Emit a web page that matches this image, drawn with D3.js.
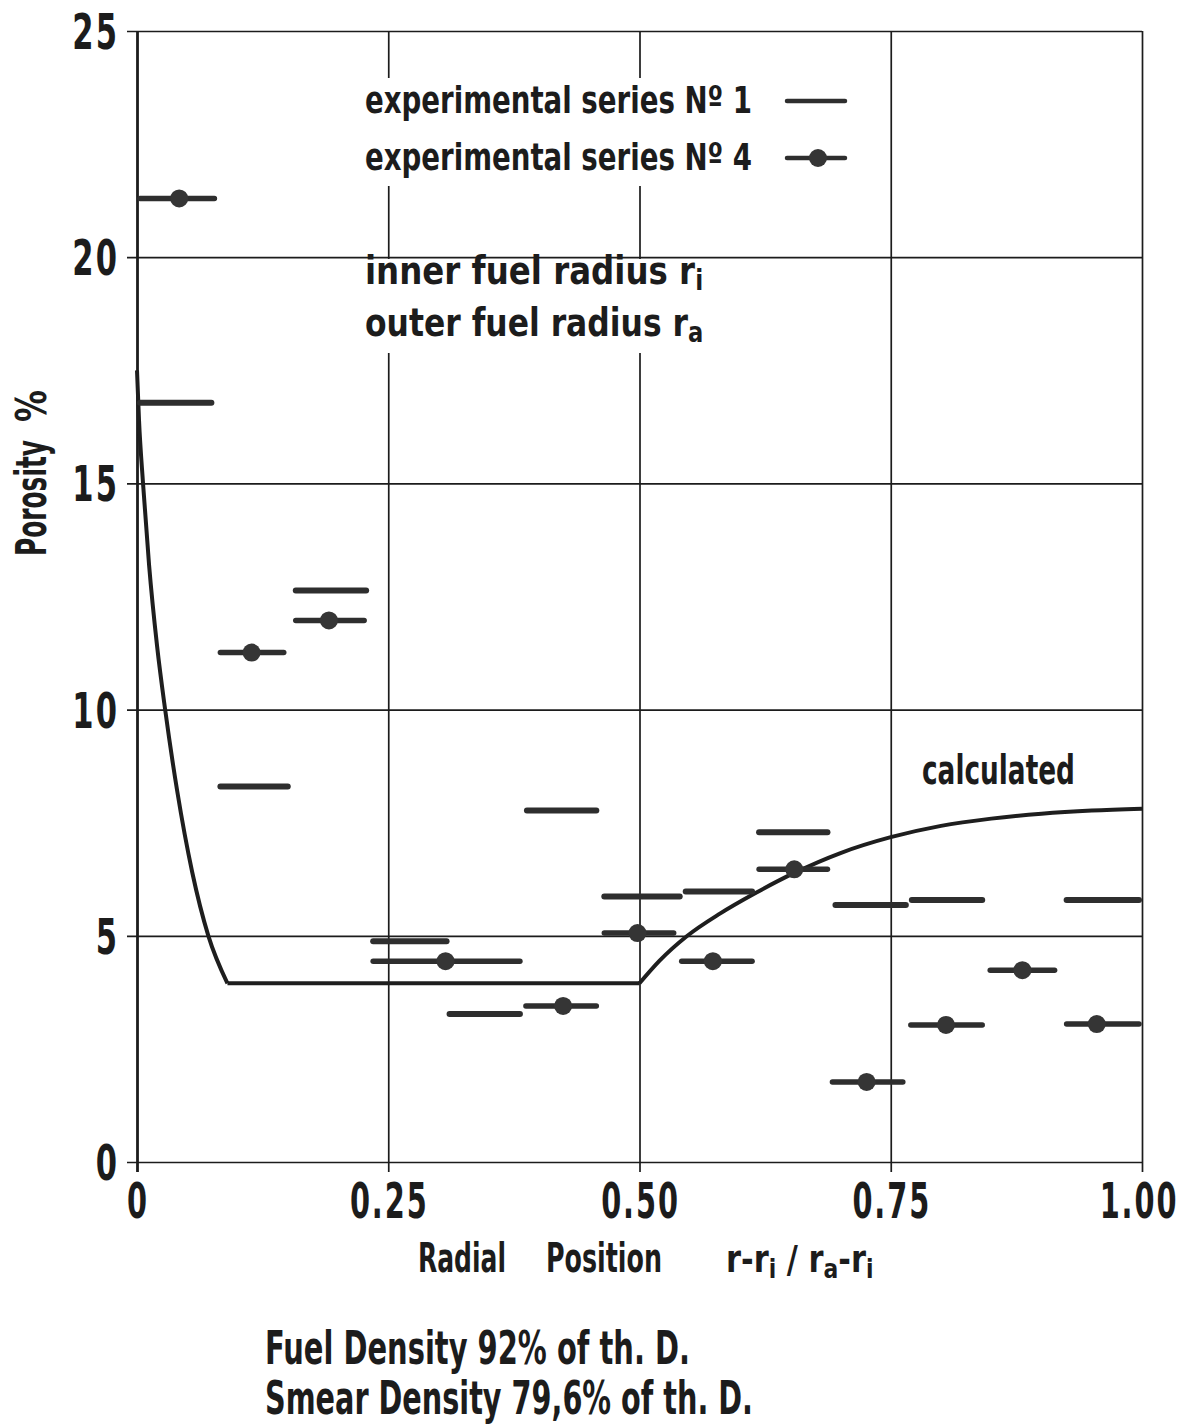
<!DOCTYPE html>
<html><head><meta charset="utf-8">
<script src="https://cdn.jsdelivr.net/npm/d3@7"></script>
<style>
html,body{margin:0;padding:0;background:#fff;}
svg{display:block;}
text{font-family:'Liberation Sans Narrow','DejaVu Sans Condensed','Liberation Sans',sans-serif;font-weight:700;fill:#1c1c1c;}
</style>
</head><body>
<svg id="c" width="1184" height="1425"></svg>
<script>
// ---- data ----
const xTicks = [0, 0.25, 0.5, 0.75, 1];
const xTickLabels = ["0", "0.25", "0.50", "0.75", "1.00"];
const yTicks = [0, 5, 10, 15, 20, 25];
const yTickLabels = ["0", "5", "10", "15", "20", "25"];

// experimental series No 1 (plain bars)
const s1Start = [0.000, 0.080, 0.155, 0.232, 0.308, 0.385, 0.462, 0.543, 0.616, 0.692, 0.768, 0.922];
const s1End   = [0.077, 0.153, 0.231, 0.311, 0.384, 0.460, 0.543, 0.615, 0.690, 0.768, 0.844, 1.000];
const s1Value = [16.78, 8.30, 12.63, 4.88, 3.27, 7.77, 5.87, 5.98, 7.29, 5.68, 5.79, 5.79];

// experimental series No 4 (bars with dot)
const s4Start  = [0.000, 0.080, 0.155, 0.232, 0.384, 0.462, 0.539, 0.616, 0.689, 0.767, 0.846, 0.922];
const s4End    = [0.080, 0.149, 0.229, 0.384, 0.460, 0.537, 0.615, 0.690, 0.765, 0.844, 0.916, 1.000];
const s4Center = [0.042, 0.114, 0.191, 0.307, 0.424, 0.498, 0.573, 0.654, 0.726, 0.805, 0.881, 0.955];
const s4Value  = [21.30, 11.26, 11.97, 4.44, 3.45, 5.06, 4.44, 6.47, 1.77, 3.03, 4.24, 3.05];

// calculated curve
const calcX = [0, 0.002, 0.006, 0.012, 0.02, 0.028, 0.04, 0.055, 0.071, 0.09, 0.5, 0.52, 0.547, 0.58, 0.615, 0.654, 0.7, 0.75, 0.8, 0.85, 0.9, 0.95, 1.0];
const calcY = [17.5, 16.4, 15.0, 13.2, 11.4, 10.0, 8.2, 6.4, 5.0, 3.95, 3.95, 4.45, 4.99, 5.49, 5.94, 6.39, 6.83, 7.18, 7.43, 7.59, 7.70, 7.77, 7.81];

// ---- drawing ----
const svg = d3.select("#c");
svg.append("rect").attr("width", 1184).attr("height", 1425).attr("fill", "#fff");

const x = d3.scaleLinear().domain([0, 1]).range([137, 1142]);
const y = d3.scaleLinear().domain([0, 25]).range([1162, 31]);

const ink = "#1c1c1c";
const grid = svg.append("g");

// horizontal grid lines (extending left as ticks)
const yAxis = d3.axisLeft(y).tickValues(yTicks).tickSize(x(1) - x(0) + 10).tickFormat("");
grid.append("g").attr("transform", `translate(${x(1)},0)`).call(yAxis)
  .call(g => g.select(".domain").remove())
  .call(g => g.selectAll(".tick line").attr("stroke", ink).attr("stroke-width", 1.7));

// vertical grid lines (extending below as ticks)
const xAxis = d3.axisBottom(x).tickValues(xTicks).tickSize(y(0) - y(25) + 10).tickFormat("");
grid.append("g").attr("transform", `translate(0,${y(25)})`).call(xAxis)
  .call(g => g.select(".domain").remove())
  .call(g => g.selectAll(".tick line").attr("stroke", ink)
    .attr("stroke-width", (d) => d === 0 ? 2.8 : 1.7));

// white backing boxes where text interrupts the grid
svg.append("rect").attr("x", 355).attr("y", 78).attr("width", 500).attr("height", 108).attr("fill", "#fff");
svg.append("rect").attr("x", 355).attr("y", 259).attr("width", 358).attr("height", 94).attr("fill", "#fff");

// tick labels (condensed by horizontal scaling)
svg.append("g").selectAll("text").data(yTicks).join("text")
  .attr("transform", d => `translate(${x(0) - 18},${y(d) + 18}) scale(0.68,1)`)
  .attr("text-anchor", "end").attr("font-size", 50).attr("letter-spacing", 3)
  .text((d, i) => yTickLabels[i]);

svg.append("g").selectAll("text").data(xTicks).join("text")
  .attr("transform", d => `translate(${d === 1 ? x(d) - 3 : x(d) + 1},${y(0) + 56}) scale(0.64,1)`)
  .attr("text-anchor", "middle").attr("font-size", 50).attr("letter-spacing", 3)
  .text((d, i) => xTickLabels[i]);

// calculated curve (three pieces: steep drop, plateau, rise)
const line = d3.line().x(d => x(d[0])).y(d => y(d[1])).curve(d3.curveMonotoneX);
const pts = calcX.map((v, i) => [v, calcY[i]]);
const plateauStart = calcX.indexOf(0.09), plateauEnd = calcX.indexOf(0.5);
[pts.slice(0, plateauStart + 1), pts.slice(plateauStart, plateauEnd + 1), pts.slice(plateauEnd)]
  .forEach(seg => svg.append("path").attr("d", line(seg)).attr("fill", "none")
    .attr("stroke", "#1e1e1e").attr("stroke-width", 4).attr("stroke-linejoin", "round"));

// series 1 bars
svg.append("g").selectAll("line").data(s1Value).join("line")
  .attr("x1", (d, i) => x(s1Start[i]) + 3).attr("x2", (d, i) => x(s1End[i]) - 3)
  .attr("y1", d => y(d)).attr("y2", d => y(d))
  .attr("stroke", "#2e2e2e").attr("stroke-width", 6).attr("stroke-linecap", "round");

// series 4 bars and dots
svg.append("g").selectAll("line").data(s4Value).join("line")
  .attr("x1", (d, i) => x(s4Start[i]) + 3).attr("x2", (d, i) => x(s4End[i]) - 3)
  .attr("y1", d => y(d)).attr("y2", d => y(d))
  .attr("stroke", "#2e2e2e").attr("stroke-width", 5.5).attr("stroke-linecap", "round");
svg.append("g").selectAll("circle").data(s4Value).join("circle")
  .attr("cx", (d, i) => x(s4Center[i])).attr("cy", d => y(d)).attr("r", 9)
  .attr("fill", "#353535");

// text helpers
function txt(t, px, py, size, len) {
  const e = svg.append("text").attr("x", px).attr("y", py).attr("font-size", size);
  if (len) e.attr("textLength", len).attr("lengthAdjust", "spacingAndGlyphs");
  return e.text(t);
}
function rich(parts, px, py, size, sx) {
  const e = svg.append("text").attr("transform", `translate(${px},${py}) scale(${sx},1)`)
    .attr("font-size", size);
  parts.forEach(p => {
    const s = e.append("tspan").text(p[0]);
    if (p[1] === "sub") s.attr("baseline-shift", "-22%").attr("font-size", size * 0.72);
  });
  return e;
}

// legend
txt("experimental series N\u00BA 1", 365, 113, 38, 387);
txt("experimental series N\u00BA 4", 365, 170, 38, 387);
svg.append("line").attr("x1", 787).attr("x2", 845).attr("y1", 101).attr("y2", 101)
  .attr("stroke", "#2e2e2e").attr("stroke-width", 4.5).attr("stroke-linecap", "round");
svg.append("line").attr("x1", 787).attr("x2", 845).attr("y1", 158).attr("y2", 158)
  .attr("stroke", "#2e2e2e").attr("stroke-width", 4.5).attr("stroke-linecap", "round");
svg.append("circle").attr("cx", 818).attr("cy", 158).attr("r", 9).attr("fill", "#353535");

rich([["inner fuel radius r"], ["i", "sub"]], 365, 284, 39, 0.925);
rich([["outer fuel radius r"], ["a", "sub"]], 365, 336, 39, 0.895);
txt("calculated", 922, 784, 40, 153);

// axis titles
txt("Radial", 418, 1272, 40, 88);
txt("Position", 546, 1272, 40, 116);
rich([["r-r"], ["i", "sub"], [" / r"], ["a", "sub"], ["-r"], ["i", "sub"]], 726, 1272, 38, 0.89);
svg.append("text").attr("transform", "translate(46,556) rotate(-90)")
  .attr("font-size", 42).attr("textLength", 116).attr("lengthAdjust", "spacingAndGlyphs").text("Porosity");
svg.append("text").attr("transform", "translate(46,422) rotate(-90)")
  .attr("font-size", 42).attr("textLength", 32).attr("lengthAdjust", "spacingAndGlyphs").text("%");

// footnotes
txt("Fuel Density 92% of th. D.", 265, 1364, 46, 425);
txt("Smear Density 79,6% of th. D.", 265, 1414, 46, 488);
</script>
</body></html>
